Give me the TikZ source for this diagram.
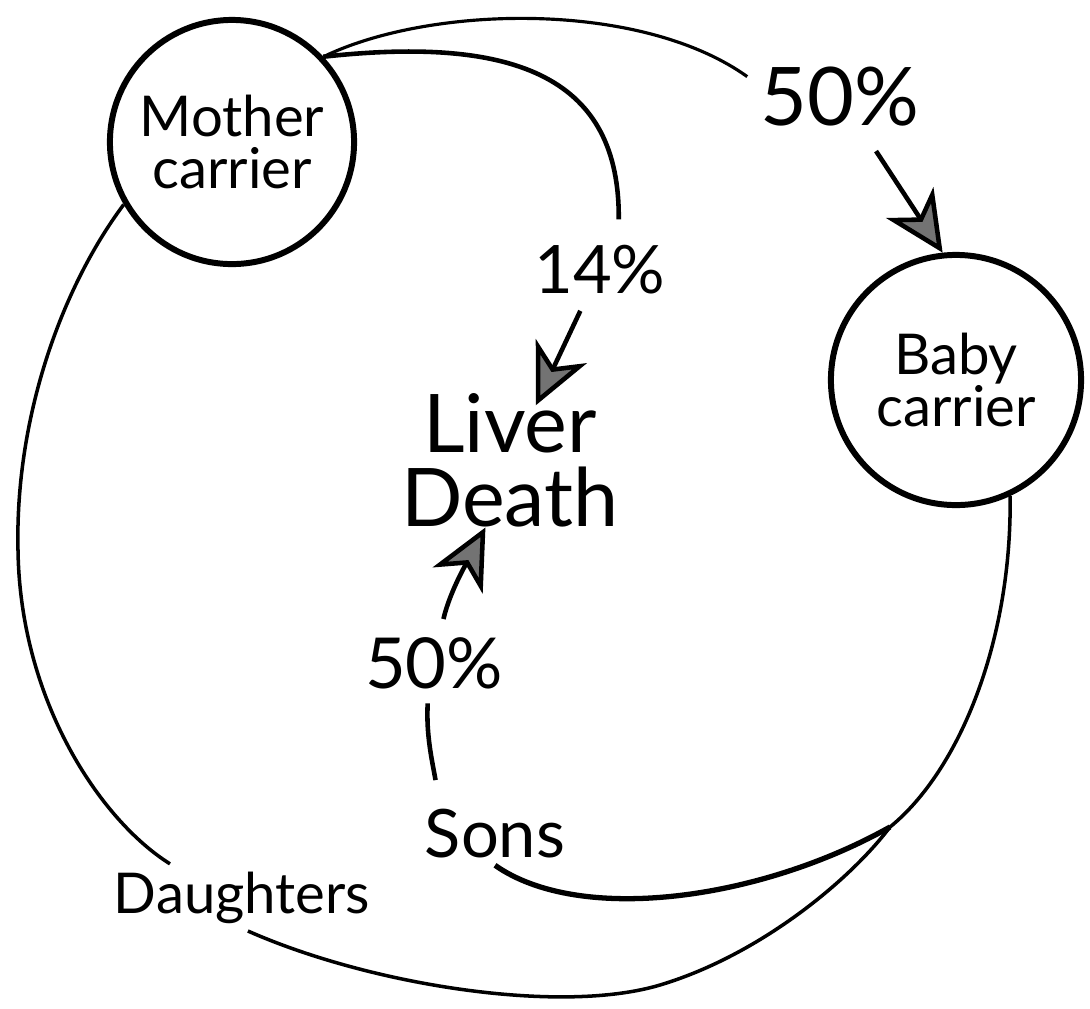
\documentclass[tikz,border=0pt]{standalone}
\usepackage{fontspec}
\setmainfont{Lato}
\usetikzlibrary{arrows.meta}
\tikzset{
  wire/.style={black,line width=0.9pt},
  heavywire/.style={black,line width=1.3pt},
  flow/.style={-{Stealth[length=17pt,width=16pt,inset=5pt,fill=black!55]},line width=1.3pt},
  carrier/.style={circle,draw=black,line width=1.7pt,minimum size=#1,inner sep=0pt,align=center,
                  font=\fontsize{16}{15}\selectfont},
  lab/.style={inner sep=2pt,anchor=base},
}

\begin{document}
\begin{tikzpicture}[x=0.01cm,y=-0.01cm]
  \useasboundingbox (0,0) rectangle (1090,1008);

  \node[carrier=2.44cm] (mother) at (232,142) {Mother\\carrier};
  \node[carrier=2.5cm] (baby) at (956,380) {Baby\\carrier};
  \node[align=center,inner sep=0pt,font=\fontsize{23}{21}\selectfont] (liver) at (510,460) {Liver\\Death};

  \node[lab,font=\fontsize{23}{23}\selectfont] (pcttop) at (840,125) {50\%};
  \node[lab,font=\fontsize{19}{19}\selectfont] (pct14) at (600,293) {14\%};
  \node[lab,font=\fontsize{20}{20}\selectfont] (pctsons) at (434,688) {50\%};
  \node[lab,font=\fontsize{19}{19}\selectfont] (sons) at (495,857) {Sons};
  \node[lab,font=\fontsize{16}{16}\selectfont] (daughters) at (242,913) {Daughters};
  \coordinate (fork) at (890,827);

  \draw[wire,shorten >=2pt] (mother.43) .. controls (430,5) and (640,0) .. (pcttop.170);
  \draw[flow,shorten <=6pt] (pcttop) -- (baby.96);

  \draw[heavywire,shorten >=5pt] (mother.43) .. controls (520,35) and (620,80) .. (pct14.60);
  \draw[flow,shorten <=3pt,shorten >=-4pt] (pct14) -- (liver);

  \draw[heavywire,shorten <=6pt,shorten >=2pt] (sons.150) .. controls (432,760) and (426,735) .. (pctsons.-100);
  \draw[flow,shorten <=3pt] (pctsons.78) .. controls (450,590) and (471,555) .. (liver.250);

  \draw[wire,line width=1pt] (mother.210) .. controls (60,290) and (15,420) .. (18,550)
    .. controls (20,700) and (100,820) .. (daughters.155);
  \draw[wire,line width=1pt] (daughters.-80) .. controls (370,985) and (560,1015) .. (660,985)
    .. controls (760,955) and (850,880) .. (fork)
    .. controls (960,770) and (1012,640) .. (baby.-65);
  \draw[heavywire,line width=1.5pt] (sons.south) .. controls (580,925) and (760,900) .. (fork);
\end{tikzpicture}
\end{document}
